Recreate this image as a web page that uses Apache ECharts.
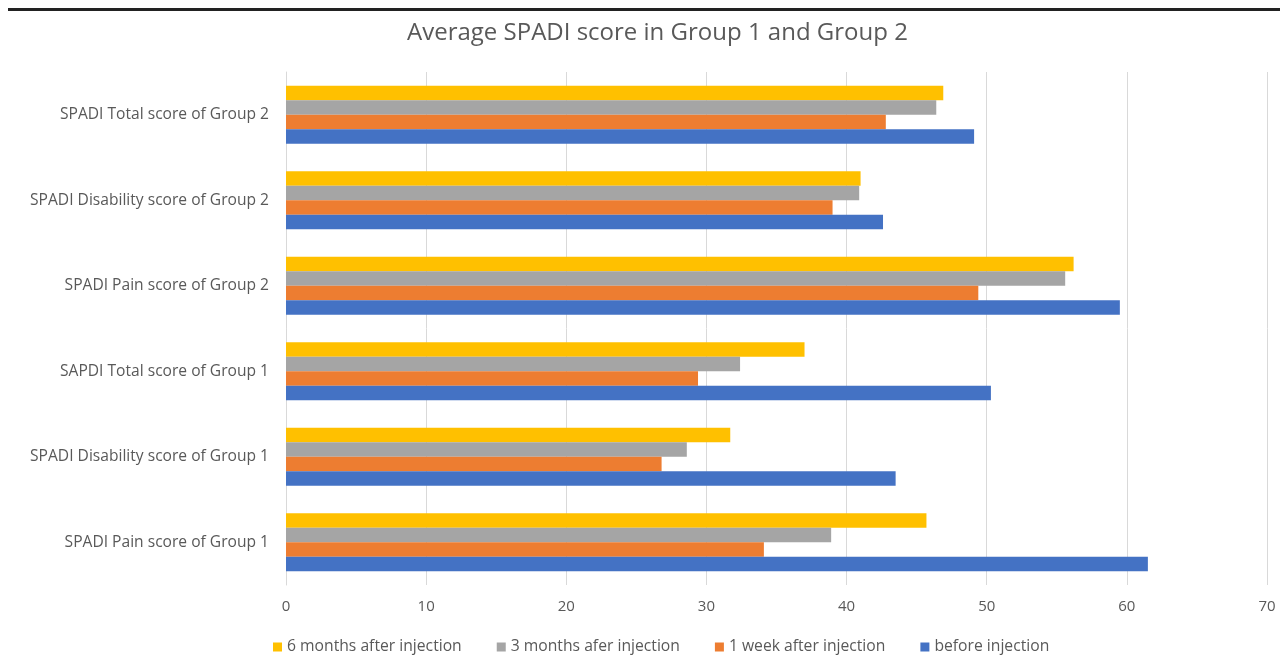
<!DOCTYPE html>
<html>
<head>
<meta charset="utf-8">
<script src="https://cdn.jsdelivr.net/npm/echarts@6/dist/echarts.min.js"></script>
<style>html,body{margin:0;padding:0;background:#fff;}#c{width:1280px;height:664px;}</style>
</head>
<body>
<div id="c"></div>
<script>
const categories = [
  "SPADI Pain score of Group 1",
  "SPADI Disability score of Group 1",
  "SAPDI Total score of Group 1",
  "SPADI Pain score of Group 2",
  "SPADI Disability score of Group 2",
  "SPADI Total score of Group 2"
];
const seriesNames = ["6 months after injection", "3 months afer injection", "1 week after injection", "before injection"];
const sixMonths = [45.7, 31.7, 37.0, 56.2, 41.0, 46.9];
const threeMonths = [38.9, 28.6, 32.4, 55.6, 40.9, 46.4];
const oneWeek = [34.1, 26.8, 29.4, 49.4, 39.0, 42.8];
const before = [61.5, 43.5, 50.3, 59.5, 42.6, 49.1];
const colors = ["#FFC000", "#A5A5A5", "#ED7D31", "#4472C4"];

const chart = echarts.init(document.getElementById('c'));
const dataSets = [sixMonths, threeMonths, oneWeek, before];
chart.setOption({
  animation: false,
  textStyle: { fontFamily: "Open Sans" },
  title: {
    text: "Average SPADI score in Group 1 and Group 2",
    left: 402, top: 16,
    textStyle: { fontFamily: "Open Sans", fontSize: 24, fontWeight: 'normal', color: '#595959' }
  },
  legend: {
    bottom: 4, left: 268,
    itemWidth: 9, itemHeight: 9, itemGap: 35,
    icon: 'rect',
    textStyle: { fontFamily: "Open Sans", fontSize: 15.7, color: '#595959', padding: [0,0,0,0] },
    data: seriesNames
  },
  grid: { left: 286, right: 13, top: 72, bottom: 79, containLabel: false },
  xAxis: {
    type: 'value', min: 0, max: 70, interval: 10,
    axisLine: { show: false }, axisTick: { show: false },
    splitLine: { lineStyle: { color: '#d9d9d9', width: 1 } },
    axisLabel: { color: '#595959', fontSize: 15, margin: 14, fontFamily: "Open Sans" }
  },
  yAxis: {
    type: 'category', data: categories,
    axisLine: { lineStyle: { color: '#d9d9d9' } }, axisTick: { show: false },
    axisLabel: { color: '#595959', fontSize: 15.6, margin: 17, fontFamily: "Open Sans" }
  },
  series: seriesNames.map((n, i) => ({
    name: n, type: 'bar', data: dataSets[i],
    barGap: '0%', barCategoryGap: '32%',
    itemStyle: { color: colors[i] }
  })),
  graphic: [
    { type: 'rect', shape: { x: 8, y: 8, width: 1272, height: 3 }, style: { fill: '#222' } }
  ]
});
</script>
</body>
</html>
